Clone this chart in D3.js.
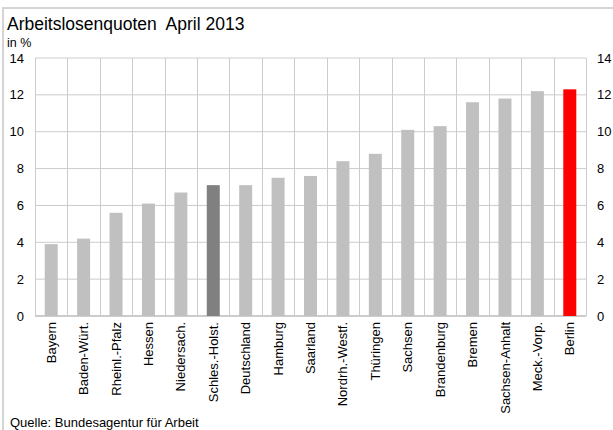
<!DOCTYPE html>
<html><head><meta charset="utf-8">
<script src="https://cdn.jsdelivr.net/npm/d3@7"></script>
<style>body{margin:0;background:#fff}svg{display:block;font-family:"Liberation Sans",Arial,sans-serif}</style>
</head><body>
<script>
const categories = ["Bayern","Baden-Würt.","Rheinl.-Pfalz","Hessen","Niedersach.","Schles.-Holst.","Deutschland","Hamburg","Saarland","Nordrh.-Westf.","Thüringen","Sachsen","Brandenburg","Bremen","Sachsen-Anhalt","Meck.-Vorp.","Berlin"];
const values = [3.9,4.2,5.6,6.1,6.7,7.1,7.1,7.5,7.6,8.4,8.8,10.1,10.3,11.6,11.8,12.2,12.3];
const highlightDark = ["Schles.-Holst."];
const highlightRed = ["Berlin"];
const yTicks = [0,2,4,6,8,10,12,14];
const title = "Arbeitslosenquoten  April 2013";
const unitLabel = "in %";
const source = "Quelle: Bundesagentur für Arbeit";

const W = 613, H = 430;
const m = {left: 35, right: 586, top: 58, bottom: 316};
const svg = d3.select("body").append("svg").attr("width", W).attr("height", H);

// outer frame
svg.append("path").attr("d", `M3,${H} V8 H${W}`).attr("fill","none").attr("stroke","#d4d4d4").attr("stroke-width",2);

const x = d3.scaleBand().domain(categories).range([m.left, m.right]).paddingInner(0).paddingOuter(0);
const y = d3.scaleLinear().domain([0,14]).range([m.bottom, m.top]);

// horizontal grid
svg.append("g").selectAll("line").data(yTicks).join("line")
  .attr("x1", m.left).attr("x2", m.right)
  .attr("y1", d => y(d)).attr("y2", d => y(d))
  .attr("stroke", "#cccccc").attr("stroke-width", d => d === 0 ? 2 : 1);
// vertical grid
const edges = categories.map(c => x(c)).concat([m.right]);
svg.append("g").selectAll("line").data(edges).join("line")
  .attr("x1", d => Math.round(d) + 0.5).attr("x2", d => Math.round(d) + 0.5)
  .attr("y1", m.top).attr("y2", m.bottom)
  .attr("stroke", "#cccccc").attr("stroke-width", 1);

// bars
const bw = 13;
svg.append("g").selectAll("rect").data(categories).join("rect")
  .attr("x", d => x(d) + x.bandwidth()/2 - bw/2)
  .attr("width", bw)
  .attr("y", (d,i) => y(values[i]))
  .attr("height", (d,i) => y(0) - y(values[i]))
  .attr("fill", d => highlightRed.includes(d) ? "#ff0000" : highlightDark.includes(d) ? "#808080" : "#c0c0c0");

// left axis labels
svg.append("g").selectAll("text").data(yTicks).join("text")
  .attr("x", 24).attr("y", d => y(d)).attr("dy", "0.35em")
  .attr("text-anchor", "end").attr("font-size", 13).attr("fill", "#000").text(d => d);
// right axis labels
svg.append("g").selectAll("text").data(yTicks).join("text")
  .attr("x", 597).attr("y", d => y(d)).attr("dy", "0.35em")
  .attr("text-anchor", "start").attr("font-size", 13).attr("fill", "#000").text(d => d);

// category labels
svg.append("g").selectAll("text").data(categories).join("text")
  .attr("transform", d => `translate(${x(d) + x.bandwidth()/2},322) rotate(-90)`)
  .attr("dy", "0.35em").attr("text-anchor", "end").attr("font-size", 13).attr("fill", "#000")
  .text(d => d);

// title etc.
svg.append("text").attr("x", 7).attr("y", 30).attr("font-size", 17.5).attr("fill", "#000").style("white-space","pre").text(title);
svg.append("text").attr("x", 7).attr("y", 47).attr("font-size", 12.5).attr("fill", "#000").text(unitLabel);
svg.append("text").attr("x", 10).attr("y", 427).attr("font-size", 13).attr("fill", "#000").text(source);
</script>
</body></html>
